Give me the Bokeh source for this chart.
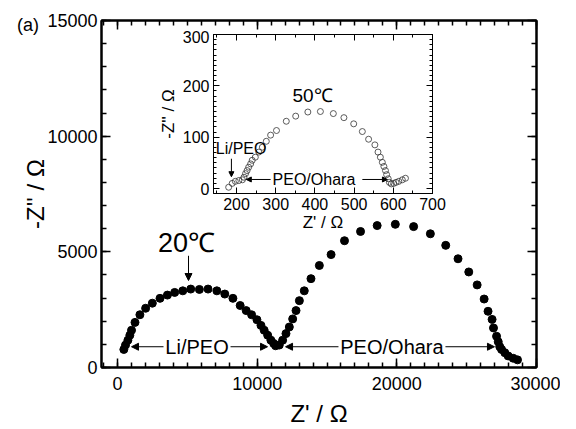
from bokeh.plotting import figure
from bokeh.models import Range1d, LinearAxis, FixedTicker, Label, Arrow, NormalHead, InlineStyleSheet, Div
from bokeh.embed import file_html
from bokeh.resources import INLINE

FONT = "Liberation Sans"

# ---- main data (20 C) ----
main_x = [450, 570, 740, 880, 1000, 1250, 1600, 2010, 2490, 3040, 3570, 4090, 4670, 5240,
          5860, 6480, 7110, 7680, 8260, 8780, 9210, 9600, 9980, 10270, 10500, 10750, 10980,
          11180, 11320, 11580, 11820, 12060, 12300, 12540, 12780, 13020, 13370, 13850, 14450,
          15290, 16250, 17400, 18590, 19890, 21200, 22400, 23500, 24380, 25150, 25750, 26250,
          26530, 26820, 26920, 27140, 27260, 27370, 27500, 27730, 27970, 28330, 28640]
main_y = [780, 970, 1180, 1395, 1610, 1950, 2280, 2560, 2780, 2990, 3130, 3245, 3315, 3390,
          3375, 3390, 3315, 3175, 2990, 2680, 2460, 2280, 2065, 1820, 1610, 1395, 1180,
          1040, 940, 970, 1180, 1465, 1750, 2100, 2460, 2890, 3315, 3840, 4410,
          4880, 5480, 5880, 6135, 6190, 6090, 5780, 5280, 4700, 4130, 3570, 2960,
          2430, 2080, 1710, 1350, 1110, 900, 780, 640, 500, 400, 330]

# ---- inset data (50 C) ----
inset_x = [180, 189, 197, 206, 215, 219, 223, 227, 231, 236, 240, 248, 257, 266, 276, 287, 302,
           327, 351, 382, 414, 447, 474, 499, 521, 537, 553, 561, 567, 572, 576, 580, 583, 587,
           590, 595, 601, 607, 614, 623, 631]
inset_y = [2.5, 10, 14, 15.6, 17, 22, 29, 35, 41.5, 48, 55, 61, 71, 80.5, 92, 104, 113,
           131, 141, 149, 150, 146, 138, 126, 111, 96, 85, 71, 61, 51, 43, 35, 27, 19,
           12, 9, 10, 12, 14, 17, 20]

main_xticks = [0, 10000, 20000, 30000]
main_xminor = list(range(-1000, 30001, 1000))
main_yticks = [0, 5000, 10000, 15000]
main_yminor = list(range(0, 15001, 1000))
inset_xticks = [200, 300, 400, 500, 600, 700]
inset_xminor = list(range(150, 701, 50))
inset_yticks = [0, 100, 200, 300]
inset_yminor = list(range(0, 301, 10))


def style_axis(ax, ticks, minor, fs, show, lw, tin, tmin, standoff=4):
    ax.ticker = FixedTicker(ticks=ticks, minor_ticks=minor)
    ax.major_tick_in = tin
    ax.major_tick_out = 0
    ax.minor_tick_in = tmin
    ax.minor_tick_out = 0
    ax.axis_line_width = lw
    ax.axis_line_color = "black"
    ax.major_tick_line_width = max(1, lw - 0.5)
    ax.minor_tick_line_width = max(1, lw - 0.5)
    ax.major_tick_line_color = "black"
    ax.minor_tick_line_color = "black"
    ax.major_label_text_font = FONT
    ax.axis_label_text_font = FONT
    ax.axis_label_text_font_style = "normal"
    ax.axis_label_text_color = "black"
    if show:
        ax.major_label_text_font_size = fs
        ax.major_label_text_color = "black"
        ax.major_label_standoff = standoff
    else:
        ax.major_label_text_font_size = "1px"
        ax.major_label_text_color = None
        ax.major_label_standoff = 0


# ================= main figure =================
p = figure(width=560, height=429, output_backend="svg", toolbar_location=None,
           x_range=Range1d(-1150, 30000), y_range=Range1d(0, 15000),
           min_border_left=101, min_border_right=24, min_border_top=20, min_border_bottom=58)
p.grid.visible = False
p.outline_line_color = "black"
p.outline_line_width = 2

style_axis(p.xaxis[0], main_xticks, main_xminor, "18px", True, 2, 9, 5, standoff=9)
style_axis(p.yaxis[0], main_yticks, main_yminor, "18px", True, 2, 9, 5, standoff=4)
p.xaxis[0].axis_label = "Z' / Ω"
p.xaxis[0].axis_label_text_font_size = "24px"
p.xaxis[0].axis_label_standoff = 7
p.yaxis[0].axis_label = "-Z'' / Ω"
p.yaxis[0].axis_label_text_font_size = "24px"
p.yaxis[0].axis_label_standoff = -5

top = LinearAxis()
style_axis(top, main_xticks, main_xminor, "1px", False, 2, 9, 5)
p.add_layout(top, "above")
right = LinearAxis()
style_axis(right, main_yticks, main_yminor, "1px", False, 2, 9, 5)
p.add_layout(right, "right")

p.scatter(main_x, main_y, size=8, marker="circle", fill_color="black", line_color="black")


def add_arrow(fig, x0, y0, x1, y1, size=7):
    fig.add_layout(Arrow(end=NormalHead(size=size, fill_color="black", line_color="black", line_width=1),
                         x_start=x0, y_start=y0, x_end=x1, y_end=y1,
                         line_color="black", line_width=1))


def add_label(fig, x, y, text, fs, align="center"):
    fig.add_layout(Label(x=x, y=y, text=text, text_align=align, text_baseline="middle",
                         text_font=FONT, text_font_size=fs, text_color="black"))


add_label(p, 4940, 5385, "20℃", "27px")
add_arrow(p, 5080, 4830, 5080, 3760)
add_label(p, 5690, 897, "Li/PEO", "20px")
add_arrow(p, 3290, 897, 1000, 897)
add_arrow(p, 8090, 897, 10740, 897)
add_label(p, 19650, 897, "PEO/Ohara", "20px")
add_arrow(p, 15820, 897, 12030, 897)
add_arrow(p, 23480, 897, 26990, 897)

# ================= inset figure =================
css = InlineStyleSheet(css=":host { position: absolute !important; left: 150px !important; top: 30px !important; z-index: 5; }")
q = figure(width=298, height=207, output_backend="svg", toolbar_location=None,
           x_range=Range1d(141.3, 700), y_range=Range1d(-9.7, 300),
           min_border_left=63, min_border_right=16, min_border_top=4, min_border_bottom=44,
           background_fill_color=None, border_fill_color=None,
           styles={"position": "absolute", "left": "150px", "top": "30px", "z-index": "5"},
           stylesheets=[css])
q.grid.visible = False
q.outline_line_color = "black"
q.outline_line_width = 1

style_axis(q.xaxis[0], inset_xticks, inset_xminor, "16px", True, 1, 6, 3)
style_axis(q.yaxis[0], inset_yticks, inset_yminor, "16px", True, 1, 6, 3)
q.xaxis[0].axis_label = "Z' / Ω"
q.xaxis[0].axis_label_text_font_size = "17px"
q.xaxis[0].axis_label_standoff = 0
q.yaxis[0].axis_label = "-Z'' / Ω"
q.yaxis[0].axis_label_text_font_size = "17px"
q.yaxis[0].axis_label_standoff = 2

qtop = LinearAxis()
style_axis(qtop, inset_xticks, inset_xminor, "1px", False, 1, 6, 3)
q.add_layout(qtop, "above")
qright = LinearAxis()
style_axis(qright, inset_yticks, inset_yminor, "1px", False, 1, 6, 3)
q.add_layout(qright, "right")

q.scatter(inset_x, inset_y, size=6, marker="circle", fill_color=None, line_color="#333333", line_width=0.8)

add_label(q, 394, 181, "50℃", "19px")
add_label(q, 147, 78, "Li/PEO", "16px", align="left")
add_arrow(q, 187, 58, 187, 23, size=5)
add_label(q, 292, 17.6, "PEO/Ohara", "16px", align="left")
add_arrow(q, 287, 17.6, 225, 17.6, size=5)
add_arrow(q, 521, 17.6, 585, 17.6, size=5)

# ================= panel tag =================
tag_css = InlineStyleSheet(css=":host { position: absolute !important; left: 12px !important; top: 8px !important; "
                               "font-family: 'Liberation Sans' !important; font-size: 18px !important; color: black; }")
tag = Div(text='<span style="font-family: \'Liberation Sans\'; font-size: 18px; color: black;">(a)</span>',
          styles={"position": "absolute", "left": "12px", "top": "8px",
                  "font-family": FONT, "font-size": "18px", "color": "black"},
          stylesheets=[tag_css])

open("out.html", "w").write(file_html([p, q, tag], INLINE))
